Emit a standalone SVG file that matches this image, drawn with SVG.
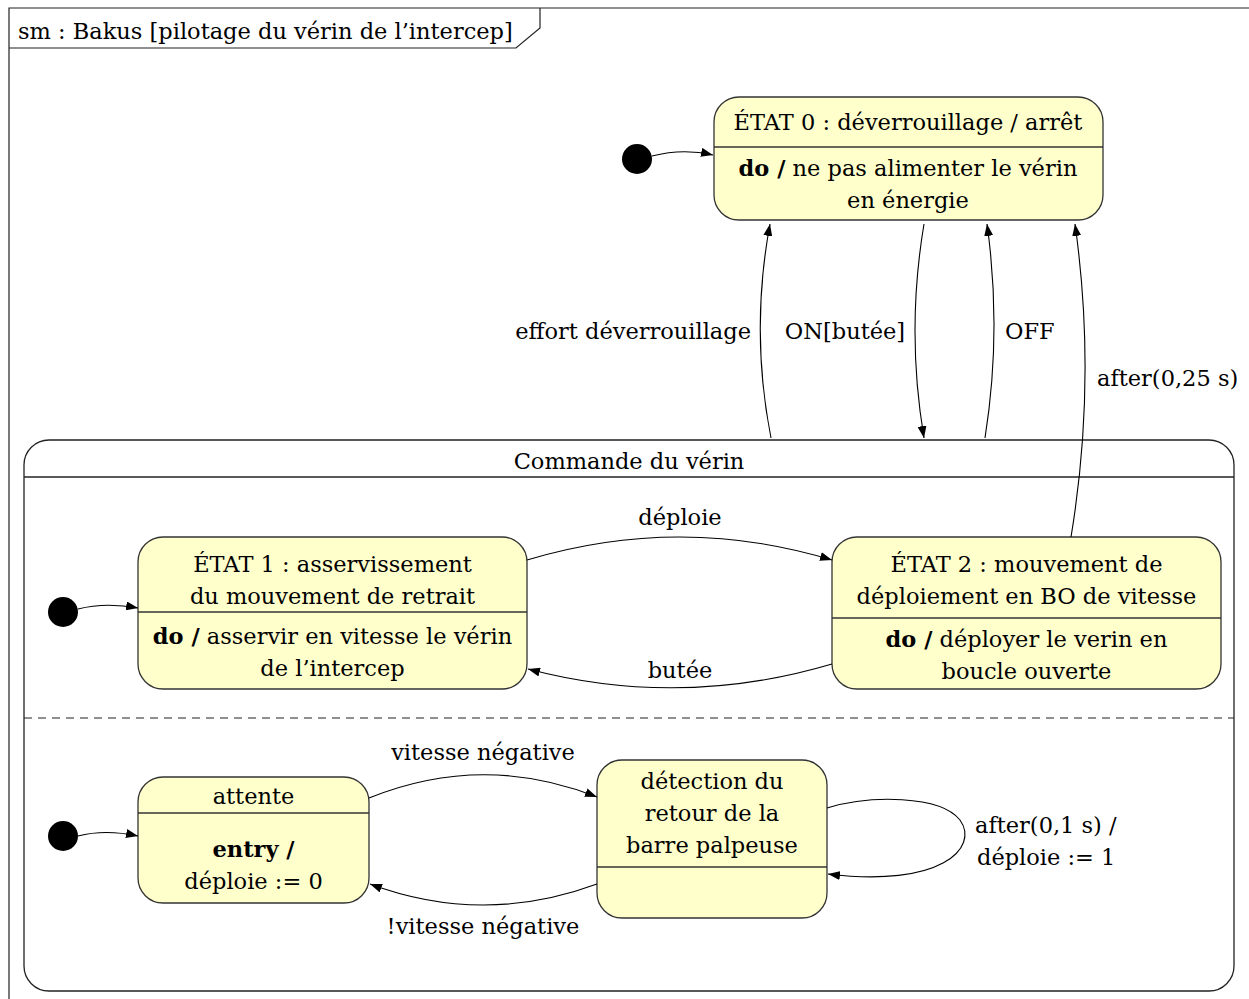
<svg xmlns="http://www.w3.org/2000/svg" width="1249" height="999" viewBox="0 0 1249 999">
<style>
text{font-family:"DejaVu Serif","Liberation Serif",serif;font-size:22.5px;fill:#000}
.c{text-anchor:middle}
.e{text-anchor:end}
.b{font-weight:bold}
.st{fill:#FFFFCC;stroke:#333;stroke-width:1.3}
.dv{stroke:#333;stroke-width:1.3}
.fr{fill:none;stroke:#222;stroke-width:1.2}
.cn{fill:none;stroke:#000;stroke-width:1.1;marker-end:url(#ah)}
.ini{fill:#000}
</style>
<defs>
<marker id="ah" markerUnits="userSpaceOnUse" markerWidth="13" markerHeight="9" refX="12" refY="4.5" orient="auto">
<path d="M0,0 L12,4.5 L0,9 z" fill="#000"/>
</marker>
</defs>
<rect width="1249" height="999" fill="#fff"/>
<g id="frame">
<path class="fr" d="M9,999 L9,8 L1249,8"/>
<path class="fr" d="M9,48 L516,48 L540,28 L540,8"/>
<text x="18" y="39">sm : Bakus [pilotage du vérin de l’intercep]</text>
</g>
<g id="state0">
<rect class="st" x="714" y="97" width="389" height="123" rx="25"/>
<line class="dv" x1="714" y1="147" x2="1103" y2="147"/>
<text class="c" x="908" y="130">ÉTAT 0 : déverrouillage / arrêt</text>
<text class="c" x="908" y="176"><tspan class="b">do /</tspan> ne pas alimenter le vérin</text>
<text class="c" x="908" y="208">en énergie</text>
</g>
<g id="init0"><circle class="ini" cx="637" cy="159" r="15"/></g>
<g id="composite">
<rect x="24" y="440" width="1210" height="551" rx="25" fill="none" stroke="#222" stroke-width="1.3"/>
<line x1="24" y1="477" x2="1234" y2="477" stroke="#222" stroke-width="1.3"/>
<line x1="24" y1="718" x2="1234" y2="718" stroke="#222" stroke-width="1.2" stroke-dasharray="8,6"/>
<text class="c" x="629" y="469">Commande du vérin</text>
</g>
<g id="state1">
<rect class="st" x="138" y="537" width="389" height="152" rx="25"/>
<line class="dv" x1="138" y1="612" x2="527" y2="612"/>
<text class="c" x="332.5" y="572">ÉTAT 1 : asservissement</text>
<text class="c" x="332.5" y="604">du mouvement de retrait</text>
<text class="c" x="332.5" y="644"><tspan class="b">do /</tspan> asservir en vitesse le vérin</text>
<text class="c" x="332.5" y="676">de l’intercep</text>
</g>
<g id="state2">
<rect class="st" x="832" y="537" width="389" height="152" rx="25"/>
<line class="dv" x1="832" y1="618" x2="1221" y2="618"/>
<text class="c" x="1026.5" y="572">ÉTAT 2 : mouvement de</text>
<text class="c" x="1026.5" y="604">déploiement en BO de vitesse</text>
<text class="c" x="1026.5" y="647"><tspan class="b">do /</tspan> déployer le verin en</text>
<text class="c" x="1026.5" y="679">boucle ouverte</text>
</g>
<g id="init1"><circle class="ini" cx="63" cy="612" r="15"/></g>
<g id="attente">
<rect class="st" x="138" y="777" width="231" height="126" rx="25"/>
<line class="dv" x1="138" y1="813" x2="369" y2="813"/>
<text class="c" x="253.5" y="804">attente</text>
<text class="c b" x="253.5" y="857">entry /</text>
<text class="c" x="253.5" y="889">déploie := 0</text>
</g>
<g id="detection">
<rect class="st" x="597" y="760" width="230" height="158" rx="25"/>
<line class="dv" x1="597" y1="867" x2="827" y2="867"/>
<text class="c" x="712" y="789">détection du</text>
<text class="c" x="712" y="821">retour de la</text>
<text class="c" x="712" y="853">barre palpeuse</text>
</g>
<g id="init2"><circle class="ini" cx="63" cy="836" r="15"/></g>
<g id="connectors">
<path class="cn" d="M652,156 Q683,148 713,155"/>
<path class="cn" d="M771,438 Q750,331 770,224"/>
<path class="cn" d="M924,224 Q906,331 924,438"/>
<path class="cn" d="M985,438 Q1002,331 987,224"/>
<path class="cn" d="M1071,537 Q1097,380 1075,224"/>
<path class="cn" d="M78,609 Q105,602 138,608"/>
<path class="cn" d="M527,560 Q680,514 832,560"/>
<path class="cn" d="M832,664 Q680,709 528,669"/>
<path class="cn" d="M78,836 Q105,829 138,836"/>
<path class="cn" d="M369,798 Q483,752 597,797"/>
<path class="cn" d="M597,884 Q483,926 370,884"/>
<path class="cn" d="M827,808 C870,795 940,795 960,820 C980,848 940,888 828,874"/>
<text class="e" x="751" y="339">effort déverrouillage</text>
<text class="c" x="845" y="339">ON[butée]</text>
<text x="1005" y="339">OFF</text>
<text x="1097" y="386">after(0,25 s)</text>
<text class="c" x="680" y="525">déploie</text>
<text class="c" x="680" y="678">butée</text>
<text class="c" x="483" y="760">vitesse négative</text>
<text class="c" x="483" y="934">!vitesse négative</text>
<text x="975" y="833">after(0,1 s) /</text>
<text x="977" y="865">déploie := 1</text>
</g>
</svg>
